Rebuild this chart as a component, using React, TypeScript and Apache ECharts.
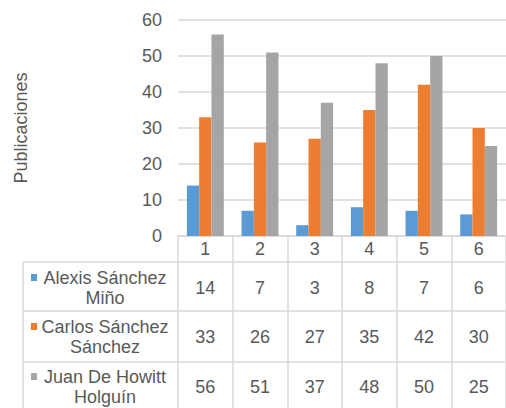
import React, { useEffect, useRef } from "react";
import * as echarts from "echarts";

const categories = ["1", "2", "3", "4", "5", "6"];
const seriesNames = ["Alexis Sánchez Miño", "Carlos Sánchez Sánchez", "Juan De Howitt Holguín"];
const alexis = [14, 7, 3, 8, 7, 6];
const carlos = [33, 26, 27, 35, 42, 30];
const juan = [56, 51, 37, 48, 50, 25];
const seriesValues = [alexis, carlos, juan];
const colors = ["#5b9bd5", "#ed7d31", "#a5a5a5"];
const yMin = 0;
const yMax = 60;
const yInterval = 10;
const yName = "Publicaciones";

const FONT = "'Liberation Sans', Arial, sans-serif";
const TEXT = "#595959";
const LINE = "#d9d9d9";
const FS = 18;

export default function App() {
  const ref = useRef<HTMLDivElement>(null);
  useEffect(() => {
    if (!ref.current) return;
    const chart = echarts.init(ref.current, null, { renderer: "svg" });
    const gridLeft = 178;
    const gridTop = 20;
    const gridHeight = 216;
    const gridWidth = 336;
    const axisY = gridTop + gridHeight;
    const rowCenters = [288, 337, 387];
    const rowLines = [262, 311, 362];
    const tableLeft = 23;

    const rowAxes = seriesValues.map((vals, i) => ({
      type: "category",
      data: categories,
      position: "bottom",
      offset: rowCenters[i] - axisY,
      axisLine: { show: false },
      axisTick: { show: false },
      splitLine: { show: false },
      axisLabel: {
        color: TEXT,
        fontSize: FS,
        fontFamily: FONT,
        margin: 0,
        verticalAlign: "middle",
        interval: 0,
        formatter: (_v: string, idx: number) => String(vals[idx]),
      },
    }));

    const graphics: any[] = [];
    rowLines.forEach((y) => {
      graphics.push({
        type: "line",
        shape: { x1: tableLeft, y1: y, x2: 520, y2: y },
        style: { stroke: LINE, lineWidth: 1.5 },
      });
    });
    graphics.push({
      type: "line",
      shape: { x1: tableLeft, y1: rowLines[0], x2: tableLeft, y2: 420 },
      style: { stroke: LINE, lineWidth: 1.5 },
    });
    seriesNames.forEach((name, i) => {
      const cut = name.lastIndexOf(" ");
      const l1 = name.slice(0, cut);
      const l2 = name.slice(cut + 1);
      const cy = rowCenters[i];
      graphics.push({
        type: "rect",
        shape: { x: 31, y: cy - 14, width: 6, height: 7 },
        style: { fill: colors[i] },
      });
      graphics.push({
        type: "text",
        x: 105,
        y: cy - 10,
        style: { text: l1, fill: TEXT, font: `${FS}px ${FONT}`, align: "center", verticalAlign: "middle" },
      });
      graphics.push({
        type: "text",
        x: 105,
        y: cy + 10,
        style: { text: l2, fill: TEXT, font: `${FS}px ${FONT}`, align: "center", verticalAlign: "middle" },
      });
    });

    chart.setOption({
      animation: false,
      grid: { left: gridLeft, top: gridTop, width: gridWidth, height: gridHeight, containLabel: false },
      xAxis: [
        {
          type: "category",
          data: categories,
          position: "bottom",
          axisLine: { show: true, lineStyle: { color: LINE, width: 1.5 } },
          axisTick: { show: true, length: 180, lineStyle: { color: LINE, width: 1.5 } },
          axisLabel: { color: TEXT, fontSize: FS, fontFamily: FONT, margin: 13, verticalAlign: "middle" },
          splitLine: { show: false },
        },
        ...rowAxes,
      ],
      yAxis: {
        type: "value",
        min: yMin,
        max: yMax,
        interval: yInterval,
        name: yName,
        nameLocation: "middle",
        nameGap: 148,
        nameTextStyle: { color: TEXT, fontSize: FS, fontFamily: FONT },
        axisLine: { show: false },
        axisTick: { show: false },
        axisLabel: { color: TEXT, fontSize: FS, fontFamily: FONT, margin: 16 },
        splitLine: { lineStyle: { color: LINE, width: 1.5 } },
      },
      series: seriesValues.map((vals, i) => ({
        type: "bar",
        name: seriesNames[i],
        data: vals,
        xAxisIndex: 0,
        barWidth: 12.3,
        barGap: "0%",
        itemStyle: { color: colors[i] },
      })),
      graphic: graphics,
    });
    return () => chart.dispose();
  }, []);
  return (
    <div
      ref={ref}
      style={{ position: "absolute", left: 0, top: 0, width: 506, height: 408, background: "#fff" }}
    />
  );
}
